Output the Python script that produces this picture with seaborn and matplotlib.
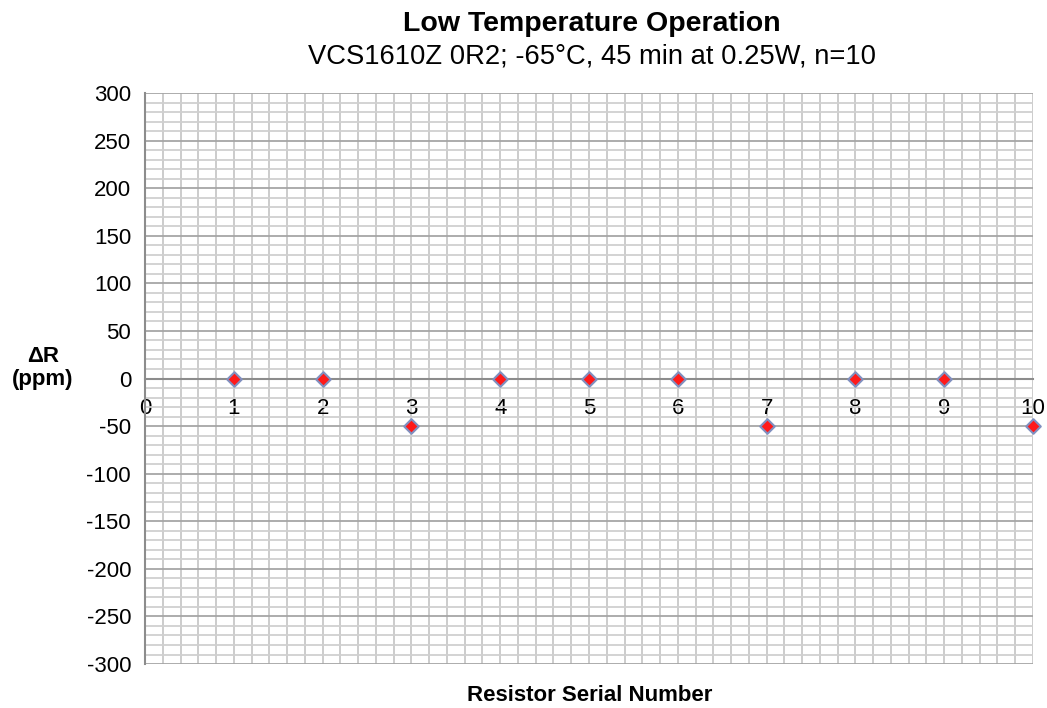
import matplotlib
matplotlib.use("Agg")
import matplotlib.pyplot as plt
from matplotlib.ticker import MultipleLocator
import pandas as pd
import seaborn as sns

# data
serial_numbers = [1, 2, 3, 4, 5, 6, 7, 8, 9, 10]
delta_r_ppm = [0, 0, -50, 0, 0, 0, -50, 0, 0, -50]

df = pd.DataFrame({"serial": serial_numbers, "dR": delta_r_ppm})

sns.set_style("white")
plt.rcParams["font.family"] = ["Liberation Sans", "DejaVu Sans"]
plt.rcParams["axes.unicode_minus"] = False
plt.rcParams["text.color"] = "black"
plt.rcParams["xtick.color"] = "black"
plt.rcParams["ytick.color"] = "black"

fig = plt.figure(figsize=(10.47, 7.08), dpi=100)
ax = fig.add_axes([0.1385, 0.0621, 0.8481, 0.8065])

ax.set_xlim(0, 10)
ax.set_ylim(-300, 300)

# grid: x every 0.2, y minor every 10, major every 50
ax.xaxis.set_major_locator(MultipleLocator(1))
ax.xaxis.set_minor_locator(MultipleLocator(0.2))
ax.yaxis.set_major_locator(MultipleLocator(50))
ax.yaxis.set_minor_locator(MultipleLocator(10))
ax.grid(which="major", axis="x", color="#c8c8c8", linewidth=1.3)
ax.grid(which="minor", axis="x", color="#c8c8c8", linewidth=1.3)
ax.grid(which="minor", axis="y", color="#d0d0d0", linewidth=1.3)
ax.grid(which="major", axis="y", color="#a6a6a6", linewidth=1.3)
ax.set_axisbelow(True)

sns.scatterplot(data=df, x="serial", y="dR", ax=ax, marker="D", s=55,
                color="#ff1a1a", edgecolor="#8090c0", linewidth=1.5,
                zorder=5, clip_on=False, legend=False)

for side in ["top", "right"]:
    ax.spines[side].set_visible(False)
ax.spines["bottom"].set_position(("data", 0))
ax.spines["bottom"].set_color("#8c8c8c")
ax.spines["bottom"].set_linewidth(1.5)
ax.spines["left"].set_color("#8c8c8c")
ax.spines["left"].set_linewidth(1.5)

ax.tick_params(axis="y", which="major", length=5, width=1.2, color="#8c8c8c",
               labelsize=16, pad=5, direction="out")
ax.tick_params(axis="x", which="major", length=4, width=1.2, color="#8c8c8c",
               labelsize=16, pad=10, direction="out")
ax.tick_params(which="minor", length=0)

ax.set_xlabel("")
ax.set_ylabel("")
fig.text(0.041, 0.48, "ΔR\n(ppm)", fontsize=16, fontweight="bold",
         ha="center", va="center", linespacing=1.1)
fig.text(0.563, 0.017, "Resistor Serial Number", fontsize=16,
         fontweight="bold", ha="center", va="center")
fig.text(0.565, 0.966, "Low Temperature Operation", fontsize=20.5,
         fontweight="bold", ha="center", va="center")
fig.text(0.565, 0.92, "VCS1610Z 0R2; -65°C, 45 min at 0.25W, n=10",
         fontsize=19.7, ha="center", va="center")

fig.savefig("out.png", dpi=100)
